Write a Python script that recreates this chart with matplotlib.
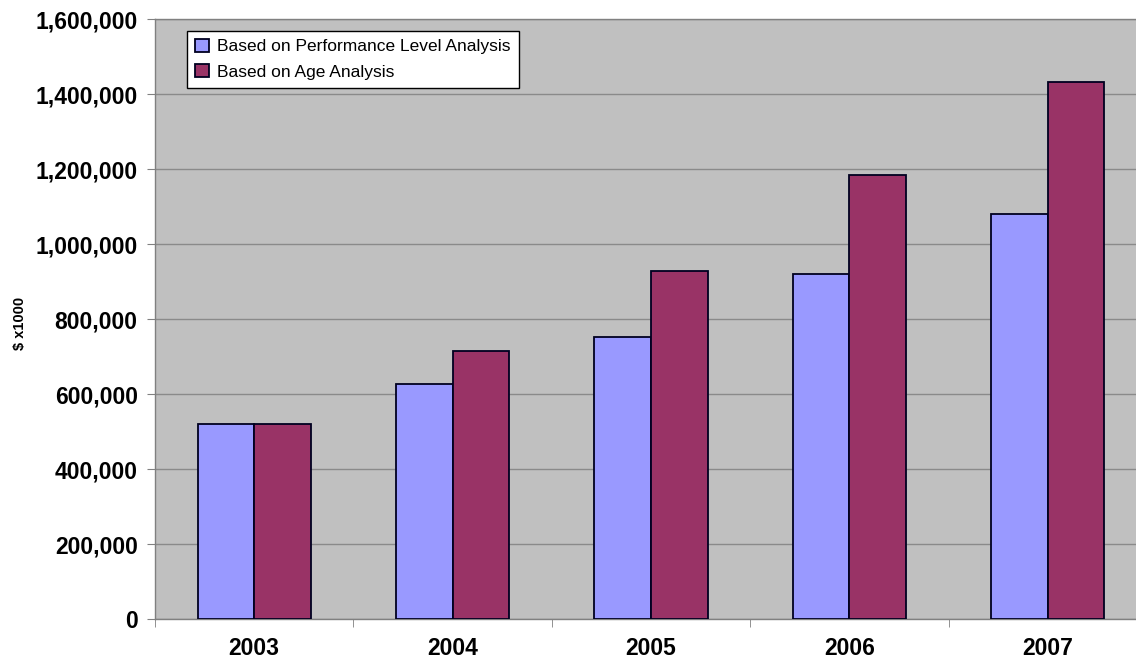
import matplotlib
matplotlib.use("Agg")
import matplotlib.pyplot as plt
import numpy as np
from matplotlib.ticker import FuncFormatter

years = ["2003", "2004", "2005", "2006", "2007"]
performance = [520000, 627000, 752000, 920000, 1080000]
age = [520000, 714000, 928000, 1184000, 1431000]
series_names = ["Based on Performance Level Analysis", "Based on Age Analysis"]

plt.rcParams['font.family'] = ['Liberation Sans', 'DejaVu Sans']

def main():
    fig = plt.figure(figsize=(11.36, 6.6), dpi=100)
    ax = fig.add_axes([155 / 1136, (660 - 619.3) / 660, 992 / 1136, 600.3 / 660])
    ax.set_facecolor("#c0c0c0")

    ind = np.arange(len(years))
    width = 1.0 / 3.5
    ax.bar(ind - width / 2, performance, width, color="#9999ff",
           edgecolor="#000020", linewidth=1.3, label=series_names[0], zorder=3)
    ax.bar(ind + width / 2, age, width, color="#993366",
           edgecolor="#000020", linewidth=1.3, label=series_names[1], zorder=3)

    ax.set_xlim(-0.5, len(years) - 0.5)
    ax.set_ylim(0, 1600000)
    ax.set_yticks(np.arange(0, 1600001, 200000))
    ax.yaxis.set_major_formatter(FuncFormatter(lambda v, p: "{:,.0f}".format(v)))
    ax.yaxis.grid(True, color="#8a8a8a", linewidth=1.0, zorder=0)

    ax.set_xticks(ind)
    ax.set_xticklabels(years)
    ax.set_xticks(np.arange(-0.5, len(years)), minor=True)
    ax.tick_params(axis="x", which="major", length=0, pad=13)
    ax.tick_params(axis="x", which="minor", length=6, color="#808080")
    ax.tick_params(axis="y", length=6, color="#808080", pad=6.5)
    for lbl in ax.get_xticklabels() + ax.get_yticklabels():
        lbl.set_fontsize(16.5)
        lbl.set_fontweight("bold")

    for side in ["left", "bottom", "top"]:
        ax.spines[side].set_color("#808080")
        ax.spines[side].set_linewidth(1.0)
    ax.spines["right"].set_visible(False)

    fig.text(20 / 1136, 1 - 323 / 660, "$ x1000", rotation=90, ha="center",
             va="center", fontsize=10.5, fontweight="bold")

    leg = ax.legend(loc="upper left", bbox_to_anchor=(32 / 992, (619.3 - 31) / 600.3),
                    borderaxespad=0, fancybox=False, fontsize=12.5,
                    handlelength=0.8, handleheight=0.8, handletextpad=0.5,
                    labelspacing=0.55, borderpad=0.45, framealpha=1)
    leg.get_frame().set_edgecolor("black")
    leg.get_frame().set_linewidth(1.0)
    leg.set_zorder(5)

    fig.savefig("out.png", dpi=100, facecolor="white")

main()
